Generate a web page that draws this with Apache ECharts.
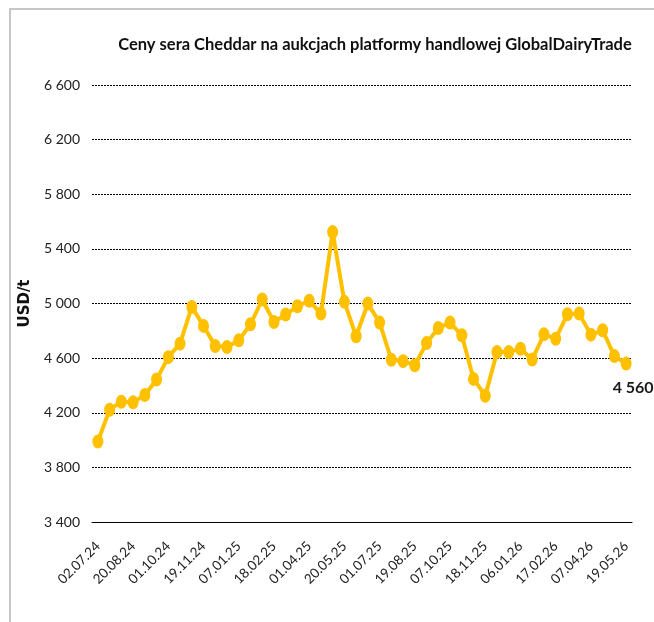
<!DOCTYPE html>
<html>
<head>
<meta charset="utf-8">
<script src="https://cdn.jsdelivr.net/npm/echarts@6/dist/echarts.min.js"></script>
<style>
html,body{margin:0;padding:0;background:#fff;}
#frame{position:absolute;left:9px;top:8px;width:660px;height:630px;border-left:2px solid #c6c6c6;border-top:2px solid #c6c6c6;}
#chart{position:absolute;left:0;top:0;width:654px;height:622px;}
</style>
</head>
<body>
<div id="frame"></div>
<div id="chart"></div>
<script>
const titleText = 'Ceny sera Cheddar na aukcjach platformy handlowej GlobalDairyTrade';
const yName = 'USD/t';
const dates = ['02.07.24','16.07.24','06.08.24','20.08.24','03.09.24','17.09.24','01.10.24','15.10.24','05.11.24','19.11.24','03.12.24','17.12.24','07.01.25','21.01.25','04.02.25','18.02.25','04.03.25','18.03.25','01.04.25','15.04.25','06.05.25','20.05.25','03.06.25','17.06.25','01.07.25','15.07.25','05.08.25','19.08.25','02.09.25','16.09.25','07.10.25','21.10.25','04.11.25','18.11.25','02.12.25','16.12.25','06.01.26','20.01.26','03.02.26','17.02.26','03.03.26','17.03.26','07.04.26','21.04.26','05.05.26','19.05.26'];
const prices = [3990,4222,4281,4276,4330,4443,4607,4706,4975,4836,4688,4681,4730,4848,5029,4865,4919,4980,5020,4926,5523,5012,4760,5000,4860,4588,4578,4548,4710,4821,4860,4767,4448,4325,4644,4644,4669,4590,4774,4742,4921,4926,4772,4804,4615,4560];
const yMin = 3400, yMax = 6600, yStep = 400;

const font = 'Lato, "Open Sans", sans-serif';
function fmt(v){ const s = String(Math.round(v)); return s.length > 3 ? s.slice(0, s.length-3) + ' ' + s.slice(-3) : s; }

// fit the title to the reference width
const ctx = document.createElement('canvas').getContext('2d');
ctx.font = 'bold 20px Lato';
const w20 = ctx.measureText(titleText).width;
const titleSize = Math.min(20, 20 * 514 / w20);

const seriesData = prices.map((v, i) => i === prices.length - 1 ? {
  value: v,
  label: {show: true, position: 'bottom', offset: [7, 4], formatter: fmt(v), fontFamily: font, fontWeight: 'bold', fontSize: 16, color: '#1a1a1a'}
} : v);

const chart = echarts.init(document.getElementById('chart'), null, {renderer: 'canvas'});
chart.setOption({
  animation: false,
  backgroundColor: 'transparent',
  title: {
    text: titleText, left: 370, top: 31, textAlign: 'center',
    textStyle: {fontFamily: font, fontWeight: 'bold', fontSize: titleSize, color: '#111'}
  },
  grid: {left: 92, right: 22, top: 85, bottom: 100, containLabel: false},
  xAxis: {
    type: 'category', data: dates, boundaryGap: true,
    axisLine: {lineStyle: {color: '#000', width: 1}},
    axisTick: {show: false},
    axisLabel: {interval: 2, rotate: 45, fontFamily: font, fontSize: 13.5, color: '#222', margin: 22},
    splitLine: {show: false}
  },
  yAxis: {
    type: 'value', min: yMin, max: yMax, interval: yStep,
    name: yName, nameLocation: 'middle', nameRotate: 90, nameGap: 59,
    nameTextStyle: {fontFamily: '"DejaVu Sans", sans-serif', fontWeight: 'bold', fontSize: 15, color: '#111'},
    axisLine: {show: false}, axisTick: {show: false},
    axisLabel: {formatter: fmt, fontFamily: font, fontSize: 14, color: '#222', margin: 12},
    splitLine: {lineStyle: {color: '#000', type: [2, 1], width: 1}}
  },
  series: [{
    type: 'line', data: seriesData,
    symbol: 'circle', symbolSize: [11, 14], showAllSymbol: true,
    lineStyle: {color: '#FFC000', width: 4},
    itemStyle: {color: '#FFC000'},
    z: 3
  }]
});
</script>
</body>
</html>
